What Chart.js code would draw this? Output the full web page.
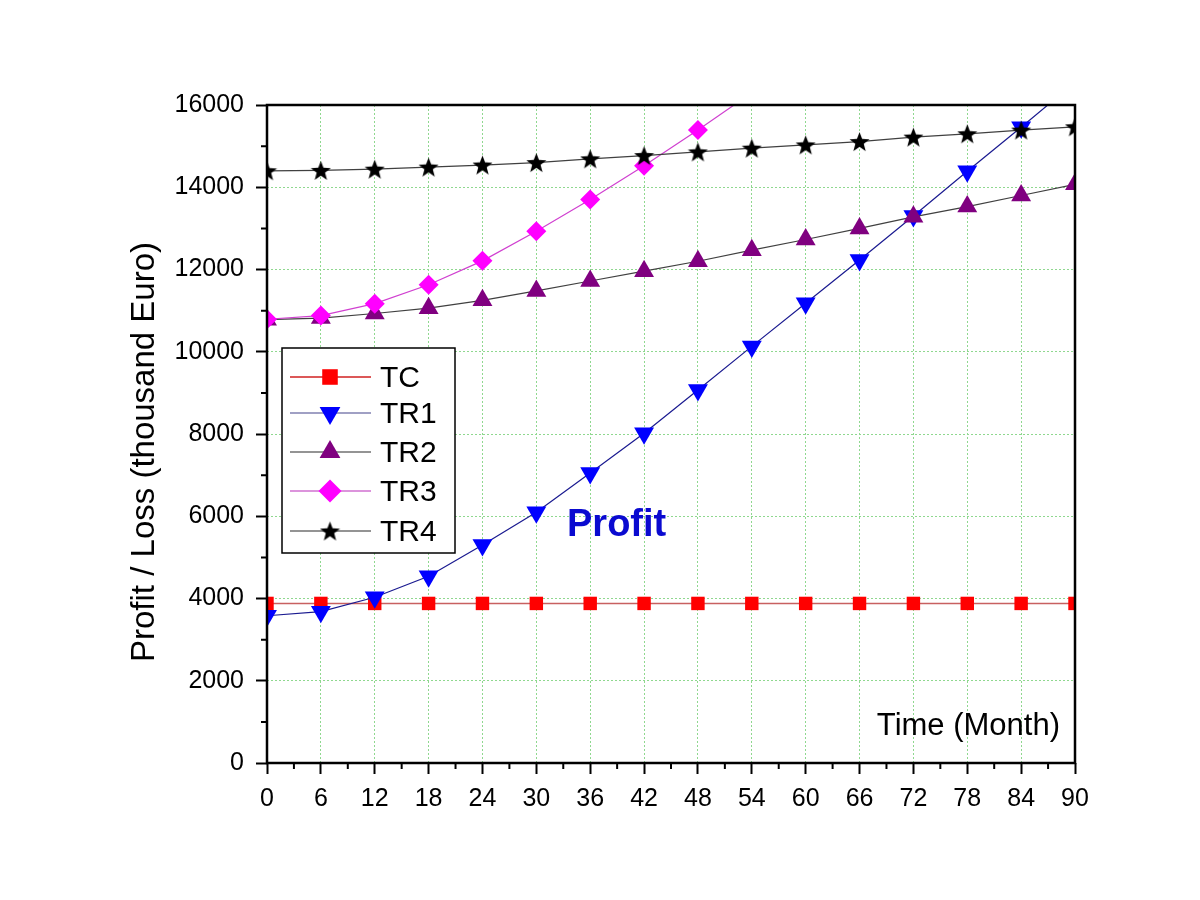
<!DOCTYPE html>
<html>
<head>
<meta charset="utf-8">
<script src="https://cdn.jsdelivr.net/npm/chart.js@4.4.0/dist/chart.umd.min.js"></script>
<style>
  html, body { margin: 0; padding: 0; background: #fff; }
  #wrap { width: 1200px; height: 900px; position: relative; }
</style>
</head>
<body>
<div id="wrap"><canvas id="c" width="1200" height="900"></canvas></div>
<script>
// ---- data ----
const months = [0, 6, 12, 18, 24, 30, 36, 42, 48, 54, 60, 66, 72, 78, 84, 90];
const TC  = [3880, 3880, 3880, 3880, 3880, 3880, 3880, 3880, 3880, 3880, 3880, 3880, 3880, 3880, 3880, 3880];
const TR1 = [3580, 3680, 4030, 4540, 5300, 6100, 7050, 8020, 9070, 10130, 11180, 12230, 13300, 14390, 15460, 16550];
const TR2 = [10780, 10820, 10930, 11060, 11250, 11480, 11720, 11960, 12200, 12470, 12730, 13000, 13280, 13530, 13800, 14070];
const TR3 = [10790, 10880, 11170, 11630, 12210, 12930, 13700, 14520, 15390, 16300, null, null, null, null, null, null];
const TR4 = [14400, 14410, 14440, 14490, 14540, 14600, 14690, 14770, 14860, 14950, 15030, 15110, 15220, 15300, 15390, 15470];
const seriesNames = ['TC', 'TR1', 'TR2', 'TR3', 'TR4'];
const yTicks = [0, 2000, 4000, 6000, 8000, 10000, 12000, 14000, 16000];
const xTicks = months;
const yTitle = 'Profit / Loss (thousand Euro)';
const xTitle = 'Time (Month)';
const note = 'Profit';

// star marker image
function makeStar(size, color) {
  const cv = document.createElement('canvas');
  cv.width = size; cv.height = size;
  const g = cv.getContext('2d');
  const cx = size / 2, cy = size / 2 + 0.9, R = size / 2, r = R * 0.42;
  g.beginPath();
  for (let i = 0; i < 10; i++) {
    const rad = (i % 2 === 0) ? R : r;
    const a = -Math.PI / 2 + i * Math.PI / 5;
    const px = cx + rad * Math.cos(a), py = cy + rad * Math.sin(a);
    if (i === 0) g.moveTo(px, py); else g.lineTo(px, py);
  }
  g.closePath();
  g.fillStyle = color; g.fill();
  return cv;
}
const starImg = makeStar(21, '#000');

const pts = arr => months.map((m, i) => ({ x: m, y: arr[i] }));

const styles = [
  { line: '#c86060', legLine: '#d02020', fill: '#ff0000', style: 'rect', radius: 9.5, legRadius: 11, rot: 0, width: 1.5 },
  { line: '#1a1a90', legLine: '#8080b0', fill: '#0000ff', style: 'triangle', radius: 11.5, legRadius: 12, rot: 180, width: 1.2 },
  { line: '#404040', legLine: '#707070', fill: '#800080', style: 'triangle', radius: 11.5, legRadius: 12, rot: 0, width: 1.2 },
  { line: '#d040d0', legLine: '#d070d0', fill: '#ff00ff', style: 'rectRot', radius: 10, legRadius: 11.5, rot: 0, width: 1.2 },
  { line: '#404040', legLine: '#707070', fill: '#000000', style: starImg, radius: 10, legRadius: 10, rot: 0, width: 1.2 }
];
const allData = [TC, TR1, TR2, TR3, TR4];

const datasets = allData.map((arr, i) => ({
  label: seriesNames[i],
  data: pts(arr),
  borderColor: styles[i].line,
  borderWidth: styles[i].width,
  backgroundColor: styles[i].fill,
  pointBackgroundColor: styles[i].fill,
  pointBorderColor: styles[i].fill,
  pointBorderWidth: 0,
  pointStyle: styles[i].style,
  pointRadius: styles[i].radius,
  pointRotation: styles[i].rot,
  pointHoverRadius: styles[i].radius,
  tension: 0,
  clip: 0,
  spanGaps: false
}));
datasets.forEach((d, i) => d.order = 5 - i);

const CHART = { left: 267, right: 1075, top: 105, bottom: 763 };
const FONT = '"Liberation Sans", Arial, sans-serif';

const overlay = {
  id: 'overlay',
  afterDraw(chart) {
    const ctx = chart.ctx;
    const a = chart.chartArea;
    const xs = chart.scales.x, ys = chart.scales.y;
    ctx.save();
    // frame
    ctx.strokeStyle = '#000';
    ctx.lineWidth = 2.5;
    ctx.strokeRect(a.left, a.top, a.right - a.left, a.bottom - a.top);
    // minor ticks
    ctx.lineWidth = 2;
    ctx.beginPath();
    for (let v = 3; v < 90; v += 6) {
      const px = xs.getPixelForValue(v);
      ctx.moveTo(px, a.bottom); ctx.lineTo(px, a.bottom + 6);
    }
    for (let v = 1000; v < 16000; v += 2000) {
      const py = ys.getPixelForValue(v);
      ctx.moveTo(a.left, py); ctx.lineTo(a.left - 6, py);
    }
    ctx.stroke();

    // y axis title (rotated)
    ctx.save();
    ctx.translate(154, 662);
    ctx.rotate(-Math.PI / 2);
    ctx.fillStyle = '#000';
    ctx.font = '33px ' + FONT;
    ctx.textAlign = 'left';
    ctx.textBaseline = 'alphabetic';
    ctx.fillText(yTitle, 0, 0);
    ctx.restore();

    // inner axis title
    ctx.fillStyle = '#000';
    ctx.font = '31px ' + FONT;
    ctx.textAlign = 'right';
    ctx.textBaseline = 'alphabetic';
    ctx.fillText(xTitle, 1060, 735);

    // Profit annotation
    ctx.fillStyle = '#0a0ad0';
    ctx.font = 'bold 38px ' + FONT;
    ctx.textAlign = 'left';
    ctx.fillText(note, 567, 536);

    // legend
    const lx = 282, ly = 348, lw = 173, lh = 205;
    ctx.fillStyle = '#fff';
    ctx.fillRect(lx, ly, lw, lh);
    ctx.strokeStyle = '#000';
    ctx.lineWidth = 1.5;
    ctx.strokeRect(lx, ly, lw, lh);
    const rowY = [377, 413, 452, 491, 531];
    ctx.font = '30px ' + FONT;
    for (let i = 0; i < 5; i++) {
      const y = rowY[i];
      ctx.strokeStyle = styles[i].legLine;
      ctx.lineWidth = 1.5;
      ctx.beginPath(); ctx.moveTo(290, y); ctx.lineTo(371, y); ctx.stroke();
      ctx.fillStyle = styles[i].fill;
      Chart.helpers.drawPoint(ctx, {
        pointStyle: styles[i].style,
        rotation: styles[i].rot,
        radius: styles[i].legRadius,
        borderWidth: 0
      }, 330, y);
      ctx.fillStyle = '#000';
      ctx.textAlign = 'left';
      ctx.textBaseline = 'middle';
      ctx.fillText(seriesNames[i], 380, y + 2);
    }
    ctx.restore();
  }
};

new Chart(document.getElementById('c'), {
  type: 'line',
  data: { datasets },
  options: {
    responsive: false,
    animation: false,
    events: [],
    layout: { padding: { left: 120, right: 1200 - CHART.right, top: CHART.top, bottom: 0 } },
    plugins: { legend: { display: false }, tooltip: { enabled: false } },
    scales: {
      x: {
        type: 'linear',
        min: 0, max: 90,
        afterBuildTicks: s => { s.ticks = xTicks.map(v => ({ value: v })); },
        afterFit: s => { s.height = 900 - CHART.bottom; },
        ticks: {
          color: '#000',
          font: { family: FONT, size: 25 },
          padding: 10,
          maxRotation: 0,
          autoSkip: false,
          callback: v => String(v)
        },
        grid: {
          color: c => (c.tick && (c.tick.value === 0 || c.tick.value === 90)) ? 'rgba(0,0,0,0)' : '#8fd88f',
          lineWidth: 1,
          tickColor: '#000',
          tickWidth: 2,
          tickLength: 11,
          drawTicks: true
        },
        border: { display: false, dash: [2, 2] }
      },
      y: {
        type: 'linear',
        min: 0, max: 16000,
        afterBuildTicks: s => { s.ticks = yTicks.map(v => ({ value: v })); },
        afterFit: s => { s.width = CHART.left - 120; },
        ticks: {
          color: '#000',
          font: { family: FONT, size: 25 },
          padding: 12,
          callback: v => String(v)
        },
        grid: {
          color: c => (c.tick && (c.tick.value === 0 || c.tick.value === 16000)) ? 'rgba(0,0,0,0)' : '#8fd88f',
          lineWidth: 1,
          tickColor: '#000',
          tickWidth: 2,
          tickLength: 11
        },
        border: { display: false, dash: [2, 2] }
      }
    }
  },
  plugins: [overlay]
});
</script>
</body>
</html>
